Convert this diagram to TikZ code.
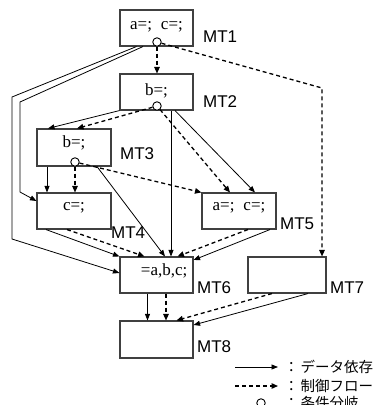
\documentclass[tikz,border=0pt]{standalone}
\usepackage{fontspec}
\setmainfont{Liberation Serif}
\newfontfamily\mtsans{Liberation Sans}
\newfontfamily\jpfont{Noto Sans CJK JP}
\usetikzlibrary{arrows.meta}
\begin{document}
\begin{tikzpicture}[x=1pt,y=-1pt,
 box/.style={draw=black!75,line width=1.1pt,minimum width=73pt,minimum height=36pt,inner sep=0pt},
 txt/.style={inner sep=0pt,font=\fontsize{17}{17}\selectfont},
 tag/.style={anchor=west,font=\mtsans\fontsize{17}{17}\selectfont,inner sep=0pt},
 cond/.style={circle,draw,line width=0.9pt,fill=white,minimum size=8.5pt,inner sep=0pt},
 dep/.style={line width=0.8pt,-{Triangle[length=6.5pt,width=5pt]}},
 ctl/.style={line width=1.3pt,dash pattern=on 4pt off 3pt,-{Triangle[length=6.5pt,width=5.5pt]}},
 legend/.style={anchor=west,font=\jpfont\fontsize{14.5}{14.5}\selectfont,inner sep=0pt}]
\useasboundingbox (0,0) rectangle (376,405);
\begin{scope}
\clip (0,0) rectangle (376,405);
% boxes
\node[box] (b1) at (156.5,28) {};
\node[box] (b2) at (156.5,92) {};
\node[box,minimum width=74pt,minimum height=37pt] (b3) at (74,147.5) {};
\node[box,minimum width=74pt] (b4) at (74,211) {};
\node[box,minimum width=74pt] (b5) at (239,211) {};
\node[box] (b6) at (156.5,275) {};
\node[box,minimum width=78pt] (b7) at (287,275) {};
\node[box,minimum height=37pt] (b8) at (156.5,339.5) {};
% box texts
\node[txt] (t1) at ([yshift=1pt]b1.center) {a=;\hspace{9pt}c=;};
\node[txt] (t2) at ([yshift=1pt]b2.center) {b=;};
\node[txt] (t3) at ([yshift=5pt]b3.center) {b=;};
\node[txt] (t4) at ([yshift=3pt]b4.center) {c=;};
\node[txt] (t5) at ([yshift=3pt]b5.center) {a=;\hspace{9pt}c=;};
\node[txt,anchor=east] (t6) at ([xshift=-6pt,yshift=4pt]b6.east) {=a,b,c;};
% labels
\node[tag] (l1) at (203,37) {MT1};
\node[tag] (l2) at (203,102) {MT2};
\node[tag] (l3) at (120,154) {MT3};
\node[tag] (l4) at (111,233) {MT4};
\node[tag] (l5) at (280,224) {MT5};
\node[tag] (l6) at (197,288) {MT6};
\node[tag] (l7) at (330,288) {MT7};
\node[tag] (l8) at (197,347) {MT8};
% connectors
\draw[dep] ([xshift=-20pt]b1.south) -- (12,97) -- (12,239) -- ([yshift=2pt]b6.west);
\draw[dep] ([xshift=-13.5pt]b1.south) -- (20,102) -- (20,192) -- ([yshift=10pt]b4.west);
\draw[dep] (b2.south west) -- ([xshift=-26pt]b3.north);
\draw[dep] ([xshift=14.5pt]b2.south) -- ([xshift=14.5pt]b6.north);
\draw[dep] ([xshift=18.5pt]b2.south) -- ([xshift=16pt]b5.north);
\draw[dep] ([xshift=-27pt]b3.south) -- ([xshift=-27pt]b4.north);
\draw[dep] ([xshift=23pt]b3.south) -- ([xshift=8.5pt]b6.north);
\draw[dep] ([xshift=-28pt]b4.south) -- (b6.north west);
\draw[dep] ([xshift=31pt]b5.south) -- ([yshift=15pt]b6.east);
\draw[dep] ([xshift=-9pt]b6.south) -- ([xshift=-9pt]b8.north);
\draw[dep] ([xshift=21pt]b7.south) -- ([yshift=14.5pt]b8.east);
% circles
\node[cond] (c1) at (157,42) {};
\node[cond] (c2) at (157,106) {};
\node[cond] (c3) at (75,162) {};
% control flow
\draw[ctl] (c1) -- ([xshift=0.5pt]b2.north);
\draw[ctl] (c1) -- (322,88) -- (b7.north -| 322,0);
\draw[ctl] (c2) -- ([xshift=3pt]b3.north);
\draw[ctl] (c2) -- ([xshift=-9pt]b5.north);
\draw[ctl] (c3) -- ([xshift=1pt]b4.north);
\draw[ctl] (c3) -- (b5.north west);
\draw[ctl] ([xshift=-7pt]b4.south) -- ([xshift=-12pt]b6.north);
\draw[ctl] ([xshift=9pt]b5.south) -- ([xshift=21pt]b6.north);
\draw[ctl] ([xshift=9.5pt]b6.south) -- ([xshift=9.5pt]b8.north);
\draw[ctl] ([xshift=-15pt]b7.south) -- ([xshift=20pt]b8.north);
% legend
\coordinate (ls1) at (235,367); \coordinate (le1) at (278,367);
\coordinate (ls2) at (235,386); \coordinate (le2) at (278,386);
\draw[dep] (ls1) -- (le1);
\draw[ctl] (ls2) -- (le2);
\node[cond] (lc) at (261,403) {};
\node[legend] (g1) at (284,367) {：\hspace{2pt}データ依存};
\node[legend] (g2) at (284,386) {：\hspace{2pt}制御フロー};
\node[legend] (g3) at (284,403) {：\hspace{2pt}条件分岐};
\end{scope}
\end{tikzpicture}
\end{document}
